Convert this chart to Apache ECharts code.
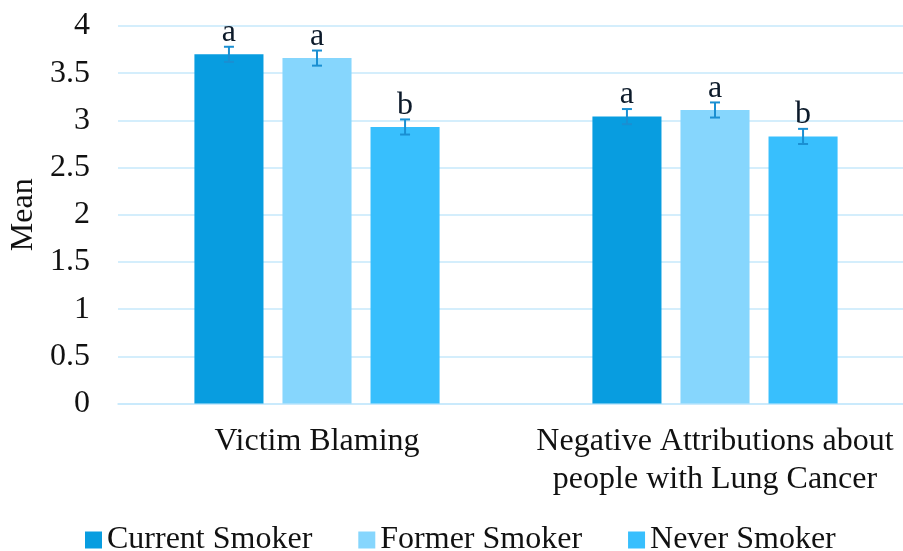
<!DOCTYPE html>
<html>
<head>
<meta charset="utf-8">
<style>
  html, body { margin: 0; padding: 0; background: #ffffff; }
  #chart { width: 903px; height: 551px; }
</style>
<script src="https://cdn.jsdelivr.net/npm/echarts@6/dist/echarts.min.js"></script>
</head>
<body>
<div id="chart"></div>
<script>
// ---- data ----
var categories = ['Victim Blaming', 'Negative Attributions about\npeople with Lung Cancer'];
var seriesNames = ['Current Smoker', 'Former Smoker', 'Never Smoker'];
var currentSmoker = [3.70, 3.04];
var formerSmoker = [3.66, 3.11];
var neverSmoker = [2.93, 2.83];
var currentErr = [0.08, 0.08];
var formerErr = [0.08, 0.08];
var neverErr = [0.08, 0.08];
var currentLetters = ['a', 'a'];
var formerLetters = ['a', 'a'];
var neverLetters = ['b', 'b'];
var yTicks = { min: 0, max: 4, interval: 0.5 };

// ---- styling ----
var FONT = '"Liberation Serif", "Times New Roman", serif';
var colors = ['#089de0', '#86d6fd', '#38bffd'];
var errColor = '#1a8fd2';
var CAT_GAP = 0.384;
var BAR_GAP = 0.275;

var values = [currentSmoker, formerSmoker, neverSmoker];
var errs = [currentErr, formerErr, neverErr];
var letters = [currentLetters, formerLetters, neverLetters];

var chart = echarts.init(document.getElementById('chart'), null, { renderer: 'canvas' });

function makeErrRender(sIdx) {
  return function (params, api) {
    var cat = api.value(0);
    var mean = api.value(1);
    var err = api.value(2);
    var band = api.size([1, 0])[0];
    var total = band * (1 - CAT_GAP);
    var n = 3;
    var bw = total / (n + (n - 1) * BAR_GAP);
    var offset = -total / 2 + sIdx * bw * (1 + BAR_GAP) + bw / 2;
    var pHi = api.coord([cat, mean + err]);
    var pLo = api.coord([cat, mean - err]);
    var x = pHi[0] + offset;
    var cap = 5;
    var style = { stroke: errColor, lineWidth: 2 };
    return {
      type: 'group',
      children: [
        { type: 'line', shape: { x1: x, y1: pHi[1], x2: x, y2: pLo[1] }, style: style },
        { type: 'line', shape: { x1: x - cap, y1: pHi[1], x2: x + cap, y2: pHi[1] }, style: style },
        { type: 'line', shape: { x1: x - cap, y1: pLo[1], x2: x + cap, y2: pLo[1] }, style: style },
        { type: 'text', x: x, y: pHi[1] + 2,
          style: { text: letters[sIdx][params.dataIndex], fill: '#0c1a2a',
                   font: '32px ' + FONT, textAlign: 'center', textVerticalAlign: 'bottom' } }
      ]
    };
  };
}

var series = [];
for (var i = 0; i < 3; i++) {
  series.push({
    name: seriesNames[i],
    type: 'bar',
    data: values[i],
    itemStyle: { color: colors[i] },
    barGap: (BAR_GAP * 100) + '%',
    barCategoryGap: (CAT_GAP * 100) + '%',
    silent: true,
    z: 2
  });
}
for (var j = 0; j < 3; j++) {
  series.push({
    name: seriesNames[j] + ' error',
    type: 'custom',
    data: categories.map(function (c, k) { return [k, values[j][k], errs[j][k]]; }),
    renderItem: makeErrRender(j),
    silent: true,
    clip: false,
    z: 3
  });
}

var option = {
  animation: false,
  backgroundColor: '#ffffff',
  textStyle: { fontFamily: FONT },
  grid: { left: 118, width: 796, top: 26, height: 377.5, containLabel: false, outerBoundsMode: 'none' },
  legend: {
    data: seriesNames,
    left: 85,
    top: 524,
    padding: 0,
    itemWidth: 17,
    itemHeight: 17,
    itemGap: 46,
    icon: 'rect',
    textStyle: { fontFamily: FONT, fontSize: 32, color: '#111' }
  },
  xAxis: {
    type: 'category',
    data: categories,
    axisTick: { show: false },
    axisLine: { show: true, lineStyle: { color: '#c6e9fb', width: 1.5 } },
    axisLabel: { fontFamily: FONT, fontSize: 32, color: '#111', lineHeight: 38, margin: 19, interval: 0 }
  },
  yAxis: {
    type: 'value',
    min: yTicks.min,
    max: yTicks.max,
    interval: yTicks.interval,
    name: 'Mean',
    nameLocation: 'middle',
    nameGap: 77,
    nameTextStyle: { fontFamily: FONT, fontSize: 32, color: '#111' },
    axisLine: { show: false },
    axisTick: { show: false },
    axisLabel: { fontFamily: FONT, fontSize: 32, color: '#111', margin: 28 },
    splitLine: { lineStyle: { color: '#c6e9fb', width: 1.5 } }
  },
  series: series
};
chart.setOption(option);
</script>
</body>
</html>
